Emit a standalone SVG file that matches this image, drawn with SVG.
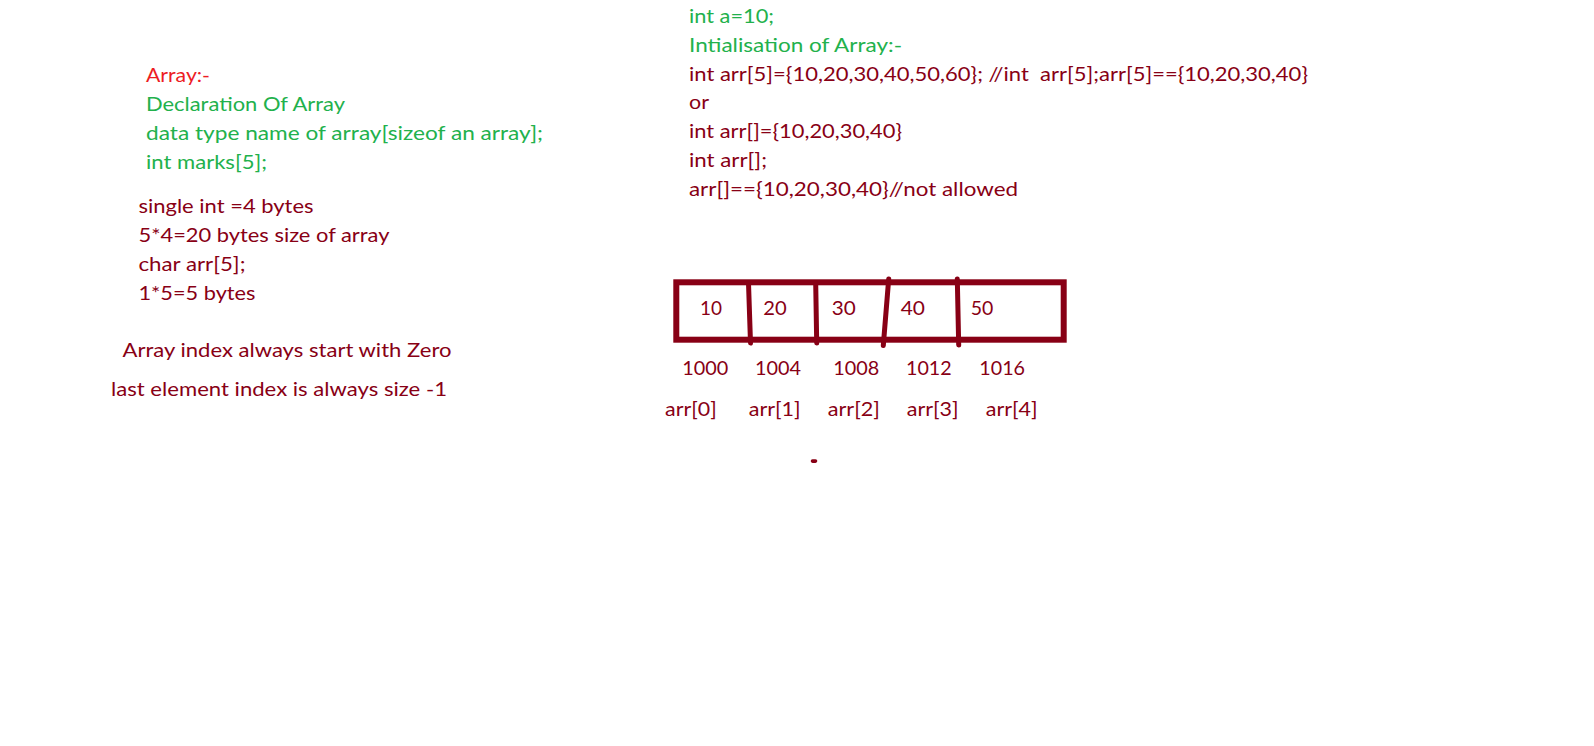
<svg xmlns="http://www.w3.org/2000/svg" width="1594" height="746" viewBox="0 0 1594 746">
<style>
text{font-family:Lato,"Open Sans","Liberation Sans",sans-serif;font-size:20px}
.r{fill:#ed1c24}
.g{fill:#22b14c}
.d{fill:#880015}
.box{fill:none;stroke:#880015;stroke-width:6}
.div{fill:none;stroke:#880015;stroke-width:5;stroke-linecap:round}
</style>
<rect width="1594" height="746" fill="#ffffff"/>
<g id="declaration">
<text class="r" x="146" y="82" textLength="64" lengthAdjust="spacingAndGlyphs">Array:-</text>
<text class="g" x="146" y="111" textLength="199" lengthAdjust="spacingAndGlyphs">Declaration Of Array</text>
<text class="g" x="146" y="139.5" textLength="397" lengthAdjust="spacingAndGlyphs">data type name of array[sizeof an array];</text>
<text class="g" x="146" y="168.5" textLength="121" lengthAdjust="spacingAndGlyphs">int marks[5];</text>
</g>
<g id="sizes">
<text class="d" x="138.5" y="212.5" textLength="175" lengthAdjust="spacingAndGlyphs">single int =4 bytes</text>
<text class="d" x="138.5" y="241.5" textLength="251" lengthAdjust="spacingAndGlyphs">5*4=20 bytes size of array</text>
<text class="d" x="138.5" y="270.5" textLength="107" lengthAdjust="spacingAndGlyphs">char arr[5];</text>
<text class="d" x="138.5" y="299.5" textLength="117" lengthAdjust="spacingAndGlyphs">1*5=5 bytes</text>
</g>
<g id="index-notes">
<text class="d" x="122.5" y="357" textLength="329" lengthAdjust="spacingAndGlyphs">Array index always start with Zero</text>
<text class="d" x="111" y="396" textLength="336" lengthAdjust="spacingAndGlyphs">last element index is always size -1</text>
</g>
<g id="initialisation">
<text class="g" x="689" y="22.7" textLength="85" lengthAdjust="spacingAndGlyphs">int a=10;</text>
<text class="g" x="689" y="51.7" textLength="213" lengthAdjust="spacingAndGlyphs">Intialisation of Array:-</text>
<text class="d" x="689" y="80.5" textLength="619" lengthAdjust="spacingAndGlyphs" xml:space="preserve" style="white-space:pre">int arr[5]={10,20,30,40,50,60}; //int  arr[5];arr[5]=={10,20,30,40}</text>
<text class="d" x="689" y="109" textLength="20" lengthAdjust="spacingAndGlyphs">or</text>
<text class="d" x="689" y="137.7" textLength="213" lengthAdjust="spacingAndGlyphs">int arr[]={10,20,30,40}</text>
<text class="d" x="689" y="166.7" textLength="78" lengthAdjust="spacingAndGlyphs">int arr[];</text>
<text class="d" x="689" y="196" textLength="329" lengthAdjust="spacingAndGlyphs">arr[]=={10,20,30,40}//not allowed</text>
</g>
<g id="array-box">
<rect class="box" x="676.3" y="282.3" width="387.4" height="57.4"/>
<path class="div" d="M748.5,283 L750.5,343"/>
<path class="div" d="M815.7,283 L816.7,343"/>
<path class="div" d="M888.7,279 L883.3,345.5"/>
<path class="div" d="M957.3,279 L958.7,345"/>
<text class="d" x="700" y="315" textLength="22" lengthAdjust="spacingAndGlyphs">10</text>
<text class="d" x="763.3" y="315" textLength="23.4" lengthAdjust="spacingAndGlyphs">20</text>
<text class="d" x="831.7" y="315" textLength="24" lengthAdjust="spacingAndGlyphs">30</text>
<text class="d" x="900.7" y="315" textLength="24.3" lengthAdjust="spacingAndGlyphs">40</text>
<text class="d" x="970.7" y="315" textLength="22.6" lengthAdjust="spacingAndGlyphs">50</text>
</g>
<g id="addresses">
<text class="d" x="682.3" y="375" textLength="46" lengthAdjust="spacingAndGlyphs">1000</text>
<text class="d" x="755" y="375" textLength="46" lengthAdjust="spacingAndGlyphs">1004</text>
<text class="d" x="833.3" y="375" textLength="46" lengthAdjust="spacingAndGlyphs">1008</text>
<text class="d" x="906" y="375" textLength="45.7" lengthAdjust="spacingAndGlyphs">1012</text>
<text class="d" x="979.3" y="375" textLength="45.7" lengthAdjust="spacingAndGlyphs">1016</text>
</g>
<g id="indices">
<text class="d" x="665" y="416" textLength="51.7" lengthAdjust="spacingAndGlyphs">arr[0]</text>
<text class="d" x="748.7" y="416" textLength="52" lengthAdjust="spacingAndGlyphs">arr[1]</text>
<text class="d" x="827.7" y="416" textLength="52.3" lengthAdjust="spacingAndGlyphs">arr[2]</text>
<text class="d" x="906.7" y="416" textLength="52" lengthAdjust="spacingAndGlyphs">arr[3]</text>
<text class="d" x="985.7" y="416" textLength="52" lengthAdjust="spacingAndGlyphs">arr[4]</text>
</g>
<g id="dot">
<rect x="810.7" y="459.3" width="6.6" height="3.6" rx="1.8" fill="#880015"/>
</g>
<g id="connectors"></g>
</svg>
